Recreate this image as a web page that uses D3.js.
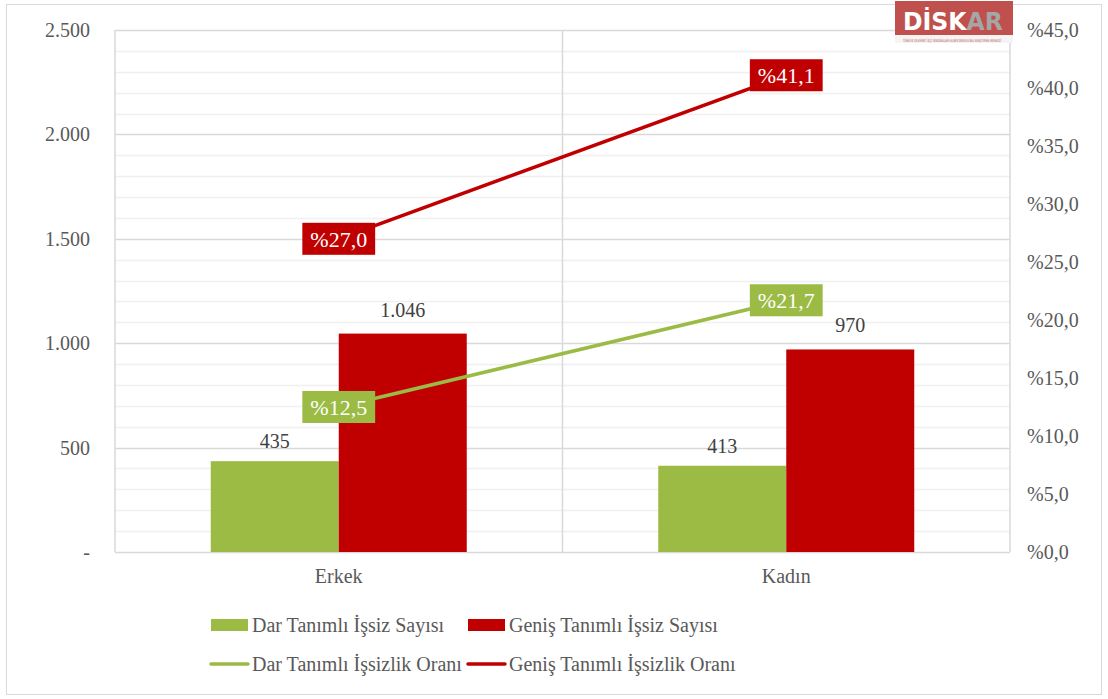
<!DOCTYPE html>
<html>
<head>
<meta charset="utf-8">
<script src="https://cdn.jsdelivr.net/npm/d3@7"></script>
<style>
  body { margin: 0; background: #fff; }
  svg text { font-family: "Liberation Serif", "DejaVu Serif", serif; }
  svg text.logo { font-family: "DejaVu Sans", sans-serif; }
</style>
</head>
<body>
<svg id="chart" width="1108" height="699"></svg>
<script>
(function(){

	// data
	const categories = ["Erkek", "Kadın"];
	const darSayisi = [435, 413];
	const genisSayisi = [1046, 970];
	const darOrani = [12.5, 21.7];
	const genisOrani = [27.0, 41.1];
	const leftTicks = [0, 500, 1000, 1500, 2000, 2500];
	const rightTicks = [0, 5, 10, 15, 20, 25, 30, 35, 40, 45];

	const green = "#9bbb45";
	const red = "#c00000";
	const textColor = "#595959";
	const serif = "'Liberation Serif', 'DejaVu Serif', serif";

	const svg = d3.select("#chart");

	// outer border
	svg.append("rect")
		.attr("x", 6.5).attr("y", 4.5)
		.attr("width", 1095).attr("height", 690)
		.attr("fill", "none").attr("stroke", "#d9d9d9");

	const left = 115, right = 1010, top = 30, bottom = 552;

	const x = d3.scaleBand().domain(categories).range([left, right]);
	const yL = d3.scaleLinear().domain([0, 2500]).range([bottom, top]);
	const yR = d3.scaleLinear().domain([0, 45]).range([bottom, top]);

	const fmt = d3.formatLocale({decimal: ",", thousands: ".", grouping: [3], currency: ["", ""]});
	const fmtInt = fmt.format(",d");
	const fmtPct = v => "%" + fmt.format(".1f")(v);

	// minor grid every 100
	const grid = svg.append("g");
	grid.selectAll("line.minor").data(d3.range(100, 2500, 100).filter(v => v % 500 != 0))
		.enter().append("line")
		.attr("x1", left).attr("x2", right)
		.attr("y1", d => Math.round(yL(d)) + 0.5).attr("y2", d => Math.round(yL(d)) + 0.5)
		.attr("stroke", "#f0f0f0").attr("stroke-width", 1.5);
	grid.selectAll("line.major").data(leftTicks.slice(1))
		.enter().append("line")
		.attr("x1", left).attr("x2", right)
		.attr("y1", d => Math.round(yL(d)) + 0.5).attr("y2", d => Math.round(yL(d)) + 0.5)
		.attr("stroke", "#d9d9d9").attr("stroke-width", 1.5);

	// vertical lines: plot edges and category separator
	[left, left + x.bandwidth(), right].forEach(function(vx){
		grid.append("line")
			.attr("x1", vx).attr("x2", vx).attr("y1", top).attr("y2", bottom)
			.attr("stroke", "#d9d9d9").attr("stroke-width", 1.5);
	});
	grid.append("line")
		.attr("x1", left).attr("x2", right).attr("y1", bottom + 0.5).attr("y2", bottom + 0.5)
		.attr("stroke", "#d9d9d9").attr("stroke-width", 1.5);

	// left axis
	const axL = svg.append("g").attr("transform", "translate(90,0)")
		.call(d3.axisLeft(yL).tickValues(leftTicks).tickSize(0)
			.tickFormat(d => d == 0 ? "-" : fmtInt(d)));
	axL.attr("font-family", null);
	axL.select(".domain").remove();
	axL.selectAll("text").attr("fill", textColor).attr("font-size", 20)
		.style("font-family", serif)
		.attr("dy", "0.32em").attr("x", 0);

	// right axis
	const axR = svg.append("g").attr("transform", "translate(1027,0)")
		.call(d3.axisRight(yR).tickValues(rightTicks).tickSize(0).tickFormat(fmtPct));
	axR.attr("font-family", null);
	axR.select(".domain").remove();
	axR.selectAll("text").attr("fill", textColor).attr("font-size", 20)
		.style("font-family", serif)
		.attr("dy", "0.32em").attr("x", 0);

	// category axis labels
	svg.selectAll("text.cat").data(categories).enter().append("text")
		.attr("x", d => x(d) + x.bandwidth() / 2).attr("y", 583)
		.attr("text-anchor", "middle").attr("fill", textColor).attr("font-size", 20)
		.text(d => d);

	// bars
	const barW = 128;
	const bars = svg.append("g");
	categories.forEach(function(c, i){
		const cx = x(c) + x.bandwidth() / 2;
		bars.append("rect")
			.attr("x", cx - barW).attr("width", barW)
			.attr("y", yL(darSayisi[i])).attr("height", yL(0) - yL(darSayisi[i]))
			.attr("fill", green);
		bars.append("rect")
			.attr("x", cx).attr("width", barW)
			.attr("y", yL(genisSayisi[i])).attr("height", yL(0) - yL(genisSayisi[i]))
			.attr("fill", red);
		bars.append("text")
			.attr("x", cx - barW / 2).attr("y", yL(darSayisi[i]) - 13)
			.attr("text-anchor", "middle").attr("fill", "#404040").attr("font-size", 20)
			.text(fmtInt(darSayisi[i]));
		bars.append("text")
			.attr("x", cx + barW / 2).attr("y", yL(genisSayisi[i]) - 17)
			.attr("text-anchor", "middle").attr("fill", "#404040").attr("font-size", 20)
			.text(fmtInt(genisSayisi[i]));
	});

	// lines
	const line = d3.line()
		.x((d, i) => x(categories[i]) + x.bandwidth() / 2)
		.y(d => yR(d));

	svg.append("path").datum(genisOrani)
		.attr("d", line).attr("fill", "none").attr("stroke", red).attr("stroke-width", 3.5);
	svg.append("path").datum(darOrani)
		.attr("d", line).attr("fill", "none").attr("stroke", green).attr("stroke-width", 3.5);

	// line labels in boxes
	function boxLabel(vals, color) {
		vals.forEach(function(v, i){
			const cx = x(categories[i]) + x.bandwidth() / 2;
			const cy = yR(v);
			const g = svg.append("g");
			const t = g.append("text")
				.attr("x", cx).attr("y", cy).attr("dy", "0.35em")
				.attr("text-anchor", "middle").attr("fill", "#fff").attr("font-size", 22)
				.text(fmtPct(v));
			const w = t.node().getComputedTextLength() + 16;
			g.insert("rect", "text")
				.attr("x", cx - w / 2).attr("y", cy - 16)
				.attr("width", w).attr("height", 32)
				.attr("fill", color);
		});
	}
	boxLabel(genisOrani, red);
	boxLabel(darOrani, green);

	// legend
	const legendItems = [
		{label: "Dar Tanımlı İşsiz Sayısı", color: green, type: "bar", x: 211, y: 625},
		{label: "Geniş Tanımlı İşsiz Sayısı", color: red, type: "bar", x: 468, y: 625},
		{label: "Dar Tanımlı İşsizlik Oranı", color: green, type: "line", x: 211, y: 664},
		{label: "Geniş Tanımlı İşsizlik Oranı", color: red, type: "line", x: 468, y: 664}
	];
	const lg = svg.append("g").selectAll("g").data(legendItems).enter().append("g");
	lg.filter(d => d.type == "bar").append("rect")
		.attr("x", d => d.x).attr("y", d => d.y - 6).attr("width", 37).attr("height", 12)
		.attr("fill", d => d.color);
	lg.filter(d => d.type == "line").append("line")
		.attr("x1", d => d.x).attr("x2", d => d.x + 37)
		.attr("y1", d => d.y).attr("y2", d => d.y)
		.attr("stroke", d => d.color).attr("stroke-width", 3.5).attr("stroke-linecap", "round");
	lg.append("text")
		.attr("x", d => d.x + 41).attr("y", d => d.y).attr("dy", "0.33em")
		.attr("fill", textColor).attr("font-size", 20)
		.text(d => d.label);

	// DİSKAR logo
	const logo = svg.append("g");
	logo.append("rect").attr("x", 895).attr("y", 1).attr("width", 118).attr("height", 42)
		.attr("fill", "#c0504d");
	logo.append("rect").attr("x", 895).attr("y", 35).attr("width", 118).attr("height", 8)
		.attr("fill", "#f4f4f4");
	const lt = logo.append("text").attr("class", "logo").attr("x", 903).attr("y", 30)
		.attr("font-weight", "bold")
		.attr("font-size", 24).attr("textLength", 100).attr("lengthAdjust", "spacingAndGlyphs");
	lt.append("tspan").attr("fill", "#fff").text("DİSK");
	lt.append("tspan").attr("fill", "#a6a6a6").text("AR");
	logo.append("text").attr("class", "logo")
		.attr("transform", "translate(903,41.5) scale(1,1.5)")
		.attr("font-size", 2.5)
		.attr("fill", "#c0504d")
		.text("TÜRKİYE DEVRİMCİ İŞÇİ SENDİKALARI KONFEDERASYONU ARAŞTIRMA MERKEZİ");

}());
</script>
</body>
</html>
